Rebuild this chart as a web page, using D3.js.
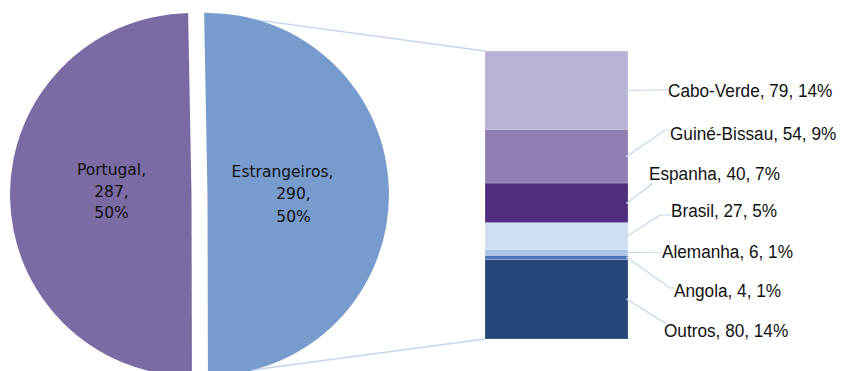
<!DOCTYPE html>
<html>
<head>
<meta charset="utf-8">
<script src="https://cdn.jsdelivr.net/npm/d3@7"></script>
<style>
  html, body { margin: 0; padding: 0; background: #fff; }
  svg { display: block; }
</style>
</head>
<body>
<svg id="chart" width="844" height="371"></svg>
<script>
// Pie: residents by nationality group
const pieNames = ["Portugal", "Estrangeiros"];
const pieValues = [287, 290];
const pieColors = ["#7b6ba4", "#789bce"];

// Bar: breakdown of "Estrangeiros" by country (top to bottom)
const barNames = ["Cabo-Verde", "Guiné-Bissau", "Espanha", "Brasil", "Alemanha", "Angola", "Outros"];
const barValues = [79, 54, 40, 27, 6, 4, 80];
const barColors = ["#b9b4d5", "#8e7eb2", "#4f2d7f", "#cfdef0", "#a9c5e5", "#4775b7", "#264578"];

// Where each bar label sits (left x, baseline y) and the bend of its leader line
const barLabelPos = [
  { x: 668, y: 97,  bend: [668, 90] },
  { x: 670, y: 140, bend: [665, 130] },
  { x: 649, y: 180, bend: [652, 184] },
  { x: 671, y: 217, bend: [660, 215] },
  { x: 662, y: 258, bend: [663, 252] },
  { x: 674, y: 297, bend: [670, 288] },
  { x: 664, y: 337, bend: [665, 323] }
];

const svg = d3.select("#chart");
const total = d3.sum(pieValues);
const barTotal = d3.sum(barValues);
const pct = v => Math.round(v / total * 100) + "%";

// ---- Pie geometry ----
const cx = 199.5, cy = 194.5, r = 181.5, explode = 8;
const tilt = 0.6 * Math.PI / 180;
const estAngle = 2 * Math.PI * pieValues[1] / total;
const start = Math.PI / 2 - tilt + estAngle / 2;

const pie = d3.pie().sort(null).value(d => d).startAngle(start).endAngle(start + 2 * Math.PI);
const arcs = pie(pieValues);
const arc = d3.arc().innerRadius(0).outerRadius(r);

function sliceCenter(a) {
  const mid = (a.startAngle + a.endAngle) / 2;
  return [cx + explode * Math.sin(mid), cy - explode * Math.cos(mid)];
}

// ---- Bar geometry ----
const barX0 = 485, barX1 = 628;
const y = d3.scaleLinear().domain([0, barTotal]).range([51, 339]);
const cum = d3.cumsum(barValues);
const segs = barValues.map((v, i) => ({ name: barNames[i], value: v, y0: cum[i] - v, y1: cum[i], color: barColors[i] }));

// Series lines joining the split slice to the bar
const est = arcs[1];
const ec = sliceCenter(est);
const pTop = [ec[0] + r * Math.sin(est.startAngle), ec[1] - r * Math.cos(est.startAngle)];
const pBot = [ec[0] + r * Math.sin(est.endAngle), ec[1] - r * Math.cos(est.endAngle)];
svg.append("g").attr("fill", "none").attr("stroke", "#c3d5ec").attr("stroke-width", 1.3)
  .selectAll("line").data([[pTop, [barX0, y(0)]], [pBot, [barX0, y(barTotal)]]])
  .join("line")
  .attr("x1", d => d[0][0]).attr("y1", d => d[0][1])
  .attr("x2", d => d[1][0]).attr("y2", d => d[1][1]);

// Pie slices
svg.append("g").selectAll("path").data(arcs).join("path")
  .attr("transform", d => `translate(${sliceCenter(d)})`)
  .attr("d", arc)
  .attr("fill", (d, i) => pieColors[i]);

// Pie labels (three lines each)
const pieLabelShift = [
  { dy: [-20, 2, 23], dx: [0, 0, 0] },
  { dy: [-17, 5, 28], dx: [-5, 6, 6] }
];
arcs.forEach((a, i) => {
  const c = sliceCenter(a);
  const mid = (a.startAngle + a.endAngle) / 2;
  const lx = c[0] + 80 * Math.sin(mid);
  const ly = c[1] - 80 * Math.cos(mid);
  const lines = [pieNames[i] + ",", pieValues[i] + ",", pct(pieValues[i])];
  lines.forEach((s, k) => {
    svg.append("text")
      .attr("transform", `translate(${lx + pieLabelShift[i].dx[k]},${ly + pieLabelShift[i].dy[k]}) scale(1,1.06)`)
      .attr("font-family", "'DejaVu Sans', Verdana, sans-serif")
      .attr("font-size", 15.5).attr("fill", "#111").attr("text-anchor", "middle")
      .text(s);
  });
});

// Bar segments
svg.append("g").selectAll("rect").data(segs).join("rect")
  .attr("x", barX0).attr("width", barX1 - barX0)
  .attr("y", d => y(d.y0)).attr("height", d => y(d.y1) - y(d.y0))
  .attr("fill", d => d.color)
  .attr("stroke", "#ffffff").attr("stroke-opacity", 0.35).attr("stroke-width", 0.6);

// Leader lines from each segment to its label
svg.append("g").attr("fill", "none").attr("stroke", "#c3d5ec").attr("stroke-width", 1.2)
  .selectAll("polyline").data(segs).join("polyline")
  .attr("points", (d, i) => {
    const ym = (y(d.y0) + y(d.y1)) / 2;
    const b = barLabelPos[i].bend;
    return `${barX1 - 1},${ym} ${b[0]},${b[1]} ${barLabelPos[i].x},${b[1]}`;
  });
svg.append("g").selectAll("circle").data(segs).join("circle")
  .attr("cx", barX1 - 1).attr("cy", d => (y(d.y0) + y(d.y1)) / 2).attr("r", 0.9)
  .attr("fill", "#c8d4e4");

// Bar labels
svg.append("g").selectAll("text").data(segs).join("text")
  .attr("transform", (d, i) => `translate(${barLabelPos[i].x},${barLabelPos[i].y}) scale(1,1.12)`)
  .attr("font-family", "'Liberation Sans', Arial, sans-serif")
  .attr("font-size", 17.2).attr("fill", "#111")
  .text(d => `${d.name}, ${d.value}, ${pct(d.value)}`);
</script>
</body>
</html>
